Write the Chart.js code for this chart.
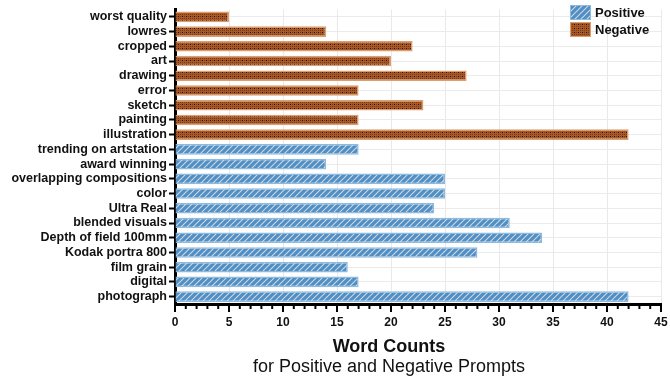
<!DOCTYPE html>
<html>
<head>
<meta charset="utf-8">
<script src="https://cdn.jsdelivr.net/npm/chart.js@4.4.1/dist/chart.umd.min.js"></script>
<style>
    html, body { margin: 0; padding: 0; background: #fff; }
    #wrap { width: 670px; height: 379px; }
</style>
</head>
<body>
<div id="wrap"><canvas id="wordChart"></canvas></div>
<script>
// word list, top to bottom
const words = ['worst quality', 'lowres', 'cropped', 'art', 'drawing', 'error', 'sketch', 'painting',
    'illustration', 'trending on artstation', 'award winning', 'overlapping compositions', 'color',
    'Ultra Real', 'blended visuals', 'Depth of field 100mm', 'Kodak portra 800', 'film grain',
    'digital', 'photograph'];

const negativeWords = ['worst quality', 'lowres', 'cropped', 'art', 'drawing', 'error', 'sketch', 'painting', 'illustration'];
const negativeCounts = [5, 14, 22, 20, 27, 17, 23, 17, 42];

const positiveWords = ['trending on artstation', 'award winning', 'overlapping compositions', 'color', 'Ultra Real',
    'blended visuals', 'Depth of field 100mm', 'Kodak portra 800', 'film grain', 'digital', 'photograph'];
const positiveCounts = [17, 14, 25, 25, 24, 31, 34, 28, 16, 17, 42];

const xTicks = [0, 5, 10, 15, 20, 25, 30, 35, 40, 45];

const FONT = "'Liberation Sans', Arial, Helvetica, sans-serif";

function stripePattern() {
    let c = document.createElement('canvas');
    c.width = 6; c.height = 6;
    let g = c.getContext('2d');
    g.fillStyle = '#4f8fc5';
    g.fillRect(0, 0, 6, 6);
    g.strokeStyle = '#cfd8e0';
    g.lineWidth = 1.1;
    g.beginPath();
    g.moveTo(-1, 7); g.lineTo(7, -1);
    g.moveTo(-1, 1); g.lineTo(1, -1);
    g.moveTo(5, 7); g.lineTo(7, 5);
    g.stroke();
    return g.createPattern(c, 'repeat');
}

function dotPattern() {
    let c = document.createElement('canvas');
    c.width = 4; c.height = 4;
    let g = c.getContext('2d');
    g.fillStyle = '#a8592a';
    g.fillRect(0, 0, 4, 4);
    g.fillStyle = '#7a3a16';
    g.fillRect(0, 0, 1, 1);
    g.fillRect(2, 2, 1, 1);
    g.fillRect(0, 2, 1, 1);
    g.fillStyle = '#24100a';
    g.fillRect(2, 0, 1, 1);
    return g.createPattern(c, 'repeat');
}

const posFill = stripePattern();
const negFill = dotPattern();
const posBorder = '#8dbbe0';
const negBorder = '#dc9e6c';

// minor / major ticks under the x axis
const xTickMarks = {
    id: 'xTickMarks',
    afterDraw(chart) {
        let ctx = chart.ctx;
        let sc = chart.scales.x;
        ctx.save();
        ctx.strokeStyle = '#000';
        ctx.lineWidth = 2;
        sc.ticks.forEach(t => {
            let px = sc.getPixelForValue(t.value);
            let len = t.value % 5 === 0 ? 8 : 5;
            ctx.beginPath();
            ctx.moveTo(px, sc.top);
            ctx.lineTo(px, sc.top + len);
            ctx.stroke();
        });
        ctx.restore();
    }
};

// legend in the top right corner + two line caption
const extras = {
    id: 'extras',
    afterDraw(chart) {
        let ctx = chart.ctx;
        ctx.save();
        let items = [['Positive', posFill, posBorder], ['Negative', negFill, negBorder]];
        items.forEach((it, i) => {
            let x = 570, y = 5 + i * 17;
            ctx.fillStyle = it[1];
            ctx.fillRect(x, y, 21, 15);
            ctx.strokeStyle = it[2];
            ctx.lineWidth = 1;
            ctx.strokeRect(x + 0.5, y + 0.5, 20, 14);
            ctx.fillStyle = '#111';
            ctx.font = 'bold 13px ' + FONT;
            ctx.textAlign = 'left';
            ctx.textBaseline = 'middle';
            ctx.fillText(it[0], 595, y + 8);
        });
        ctx.textAlign = 'center';
        ctx.textBaseline = 'middle';
        ctx.fillStyle = '#111';
        ctx.font = 'bold 18px ' + FONT;
        ctx.fillText('Word Counts', 389, 347);
        ctx.font = '18px ' + FONT;
        ctx.fillText('for Positive and Negative Prompts', 389, 367);
        ctx.restore();
    }
};

const data = {
    labels: words,
    datasets: [{
        label: 'Positive',
        data: positiveWords.map((w, i) => ({ y: w, x: positiveCounts[i] })),
        backgroundColor: posFill,
        borderColor: posBorder,
        borderWidth: 1.5,
        grouped: false,
        barPercentage: 0.72,
        categoryPercentage: 1
    }, {
        label: 'Negative',
        data: negativeWords.map((w, i) => ({ y: w, x: negativeCounts[i] })),
        backgroundColor: negFill,
        borderColor: negBorder,
        borderWidth: 1.5,
        grouped: false,
        barPercentage: 0.72,
        categoryPercentage: 1
    }]
};

const config = {
    type: 'bar',
    data: data,
    options: {
        indexAxis: 'y',
        responsive: true,
        maintainAspectRatio: false,
        animation: false,
        layout: { padding: { top: 5, right: 0, bottom: 43, left: 0 } },
        plugins: {
            legend: { display: false },
            tooltip: { enabled: false }
        },
        scales: {
            x: {
                type: 'linear',
                min: 0,
                max: 45,
                afterBuildTicks: function (s) {
                    let t = [];
                    for (let v = 0; v <= 45; v++) t.push({ value: v });
                    s.ticks = t;
                },
                afterFit: function (s) {
                    s.height = 32;
                    s.paddingRight = 9;
                    s.paddingLeft = 0;
                },
                ticks: {
                    autoSkip: false,
                    maxRotation: 0,
                    padding: 11,
                    color: '#111',
                    font: { family: FONT, size: 12, weight: 'bold' },
                    callback: function (value) {
                        return xTicks.includes(value) ? value : '';
                    }
                },
                grid: {
                    drawTicks: false,
                    color: function (c) {
                        return c.tick && xTicks.includes(c.tick.value) ? '#e9e9e9' : 'rgba(0,0,0,0)';
                    }
                },
                border: { color: '#000', width: 3 }
            },
            y: {
                afterFit: function (s) { s.width = 175; },
                ticks: {
                    autoSkip: false,
                    padding: 2,
                    color: '#111',
                    font: { family: FONT, size: 12.5, weight: 'bold' }
                },
                grid: {
                    offset: false,
                    color: '#ebebeb',
                    tickColor: '#000',
                    tickWidth: 2,
                    tickLength: 6
                },
                border: { color: '#000', width: 3 }
            }
        }
    },
    plugins: [xTickMarks, extras]
};

var wordChart = new Chart(document.getElementById('wordChart'), config);
</script>
</body>
</html>
